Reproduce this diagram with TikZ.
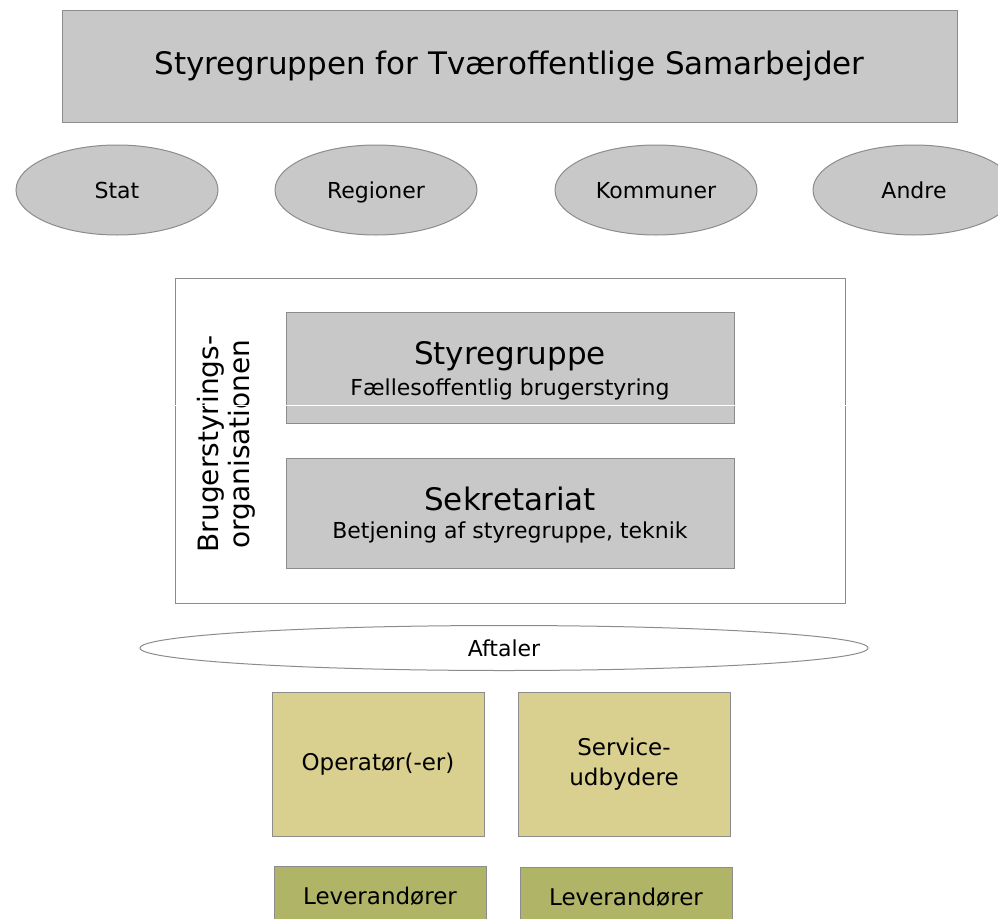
\documentclass[tikz,border=0pt]{standalone}
\usepackage{fontspec}
\setmainfont{DejaVu Sans}
\usetikzlibrary{shapes.geometric}
\definecolor{boxgray}{HTML}{C8C8C8}
\definecolor{linegray}{HTML}{8C8C8C}
\definecolor{tan}{HTML}{D9CF8F}
\definecolor{olive}{HTML}{B0B466}
\tikzset{
  graybox/.style={draw=linegray, line width=1pt, fill=boxgray, rectangle, inner sep=0pt, align=center},
  grayell/.style={draw=linegray, line width=1pt, fill=boxgray, ellipse, inner sep=0pt, minimum width=202pt, minimum height=90pt, text height=16pt, text depth=0pt, font=\fontsize{22}{26}\selectfont},
  tanbox/.style={draw=linegray, line width=1pt, fill=tan, rectangle, inner sep=0pt, minimum width=212pt, minimum height=144pt, align=center, font=\fontsize{23}{30}\selectfont},
  olivebox/.style={draw=linegray, line width=1pt, fill=olive, rectangle, inner sep=0pt, minimum width=212pt, minimum height=60pt, font=\fontsize{23}{26}\selectfont},
}
\begin{document}
\begin{tikzpicture}[x=1pt,y=-1pt]
\useasboundingbox (0,0) rectangle (998,918);
\begin{scope}
\clip (0,0) rectangle (998,918);
\node[graybox, minimum width=895pt, minimum height=112pt, font=\fontsize{31}{36}\selectfont] (top) at (509.5,66) {Styregruppen for Tværoffentlige Samarbejder};
\node[grayell] (stat) at (117,190) {Stat};
\node[grayell] (reg) at (376,190) {Regioner};
\node[grayell] (kom) at (656,190) {Kommuner};
\node[grayell] (andre) at (914,190) {Andre};
\node[draw=linegray, line width=1pt, fill=white, rectangle, minimum width=670pt, minimum height=325pt, inner sep=0pt] (org) at (510,440.5) {};
\node[rotate=90, align=center, font=\fontsize{28}{31}\selectfont] (orglbl) at (226,444) {Brugerstyrings-\\organisationen};
\node[graybox, minimum width=448pt, minimum height=111pt] (sty) at (510,367.5) {};
\node[font=\fontsize{31}{34}\selectfont] (styt) at (510,356) {Styregruppe};
\node[font=\fontsize{22}{26}\selectfont] (stys) at (510,389) {Fællesoffentlig brugerstyring};
\node[graybox, minimum width=448pt, minimum height=110pt] (sek) at (510,513) {};
\node[font=\fontsize{31}{34}\selectfont] (sekt) at (510,499) {Sekretariat};
\node[font=\fontsize{22}{26}\selectfont] (seks) at (510,532) {Betjening af styregruppe, teknik};
\draw[white, line width=0.8pt] (org.west |- 0,405) -- (org.east |- 0,405);
\node[draw=linegray, line width=1pt, fill=white, ellipse, inner sep=0pt, minimum width=728pt, minimum height=45pt, font=\fontsize{22}{26}\selectfont] (aft) at (504,648) {Aftaler};
\node[tanbox] (op) at (378,764) {Operatør(-er)};
\node[tanbox] (serv) at (624,764) {Service-\\udbydere};
\node[olivebox] (lev1) at (380,896) {Leverandører};
\node[olivebox] (lev2) at (626,897) {Leverandører};
\end{scope}
\end{tikzpicture}
\end{document}
